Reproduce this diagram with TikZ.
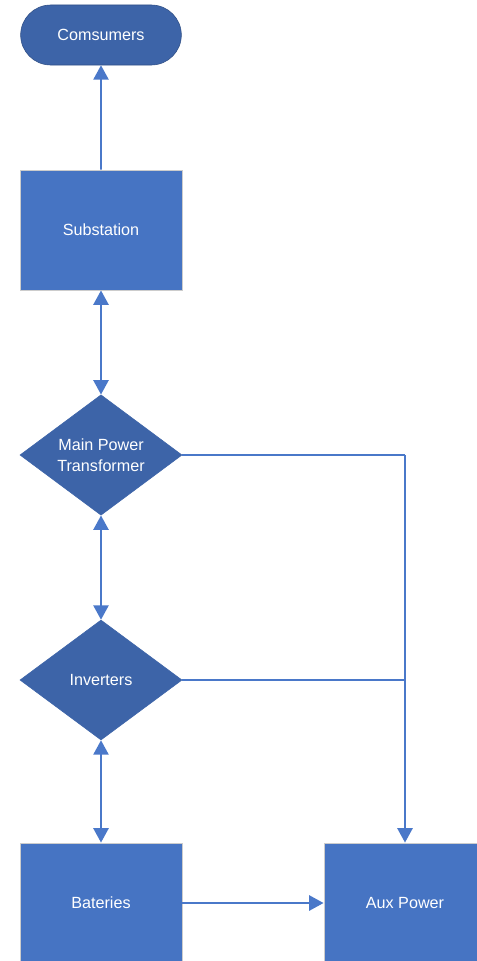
\documentclass[tikz,border=0pt]{standalone}
\usepackage{fontspec}
\setsansfont{Liberation Sans}
\usetikzlibrary{arrows.meta,positioning,shapes.geometric,shapes.misc}
\definecolor{boxblue}{HTML}{4674C3}
\definecolor{deepblue}{HTML}{3D64A8}
\definecolor{wireblue}{HTML}{4A78C9}
\tikzset{
  >={Triangle[length=3.6mm,width=3.8mm]},
  % knoter
  term/.style={rounded rectangle,fill=deepblue,draw=deepblue!80!black,line width=0.4pt,
               minimum width=4.25cm,minimum height=1.5cm,text=white,
               font=\sffamily\fontsize{11.5}{13}\selectfont},
  blk/.style={rectangle,fill=boxblue,draw=black!20,line width=0.6pt,
              minimum width=4.05cm,minimum height=3cm,text=white,
              font=\sffamily\fontsize{11.5}{13}\selectfont},
  dec/.style={diamond,fill=deepblue,draw=deepblue,inner sep=0pt,
              minimum width=4.05cm,minimum height=3cm,text=white,align=center,
              font=\sffamily\fontsize{11.5}{15}\selectfont},
  % ledningar
  wire/.style={draw=wireblue,line width=1.4pt},
}
\begin{document}
\begin{tikzpicture}[x=0.025cm,y=-0.025cm]
\useasboundingbox (0,0) rectangle (477,961);
  \node[term] (cons) at (101,35) {Comsumers};
  \node[blk] (sub) at (101,230) {Substation};
  \node[dec] (mpt) at (101,455) {Main Power\\Transformer};
  \node[dec] (inv) at (101,680) {Inverters};
  \node[blk] (bat) at (101,903) {Bateries};
  \node[blk] (aux) at (405,903) {Aux Power};
  \coordinate (jt) at (405,455);
  \coordinate (ji) at (405,680);
  \draw[wire,->] (sub) -- (cons);
  \draw[wire,<->] (sub) -- (mpt);
  \draw[wire,<->] (mpt) -- (inv);
  \draw[wire,<->] (inv) -- (bat);
  \draw[wire,->] (bat) -- (aux);
  \draw[wire] (mpt.east) -- (jt);
  \draw[wire,->] (jt) -- (aux.north);
  \draw[wire] (inv.east) -- (ji);
\end{tikzpicture}
\end{document}
